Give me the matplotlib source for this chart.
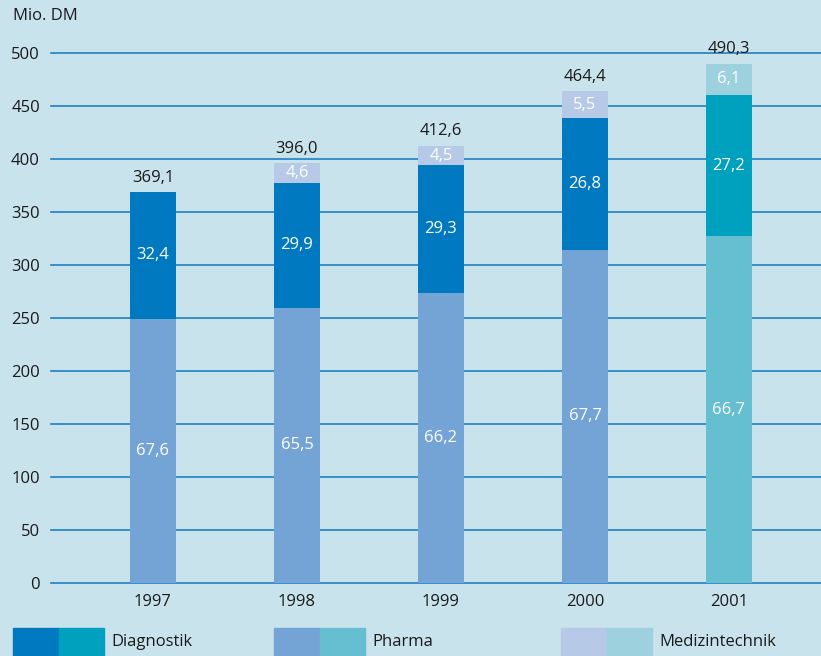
import matplotlib.pyplot as plt
from matplotlib.patches import Rectangle
import numpy as np

plt.rcParams['font.family'] = ['Open Sans', 'DejaVu Sans']

years = ["1997", "1998", "1999", "2000", "2001"]
totals = [369.1, 396.0, 412.6, 464.4, 490.3]
pharma_pct = [67.6, 65.5, 66.2, 67.7, 66.7]
diag_pct = [32.4, 29.9, 29.3, 26.8, 27.2]
medtech_pct = [0.0, 4.6, 4.5, 5.5, 6.1]

bg = '#c9e3ec'
grid_col = '#1f80c4'
# normal colours and 2001 colours
diag_cols = ['#0079c1', '#00a0bf']
pharma_cols = ['#74a3d6', '#66bfd1']
med_cols = ['#b6c9e7', '#9ed1de']


def fmt(v):
    return f"{v:.1f}".replace('.', ',')


fig = plt.figure(figsize=(8.21, 6.56), dpi=100, facecolor=bg)
ax = fig.add_axes([51 / 821, 1 - 582.7 / 656, 1 - 51 / 821, (582.7 - 53.3) / 656])
ax.set_facecolor(bg)

x = np.arange(len(years))
w = 0.32
totals = np.array(totals)
ph = totals * np.array(pharma_pct) / 100
dg = totals * np.array(diag_pct) / 100
md = totals * np.array(medtech_pct) / 100

for i in range(len(years)):
    k = 1 if years[i] == "2001" else 0
    ax.bar(x[i], ph[i], w, color=pharma_cols[k], zorder=3)
    ax.bar(x[i], dg[i], w, bottom=ph[i], color=diag_cols[k], zorder=3)
    if md[i] > 0:
        ax.bar(x[i], md[i], w, bottom=ph[i] + dg[i], color=med_cols[k], zorder=3)
        ax.text(x[i], ph[i] + dg[i] + md[i] / 2, fmt(medtech_pct[i]), color='white',
                ha='center', va='center', fontsize=12, zorder=4)
    ax.text(x[i], ph[i] / 2, fmt(pharma_pct[i]), color='white',
            ha='center', va='center', fontsize=12, zorder=4)
    ax.text(x[i], ph[i] + dg[i] / 2, fmt(diag_pct[i]), color='white',
            ha='center', va='center', fontsize=12, zorder=4)
    ax.text(x[i], totals[i] + 6, fmt(totals[i]), color='#1a1a1a',
            ha='center', va='bottom', fontsize=12, zorder=4, clip_on=False)

ax.set_xlim(-0.708, 4.639)
ax.set_ylim(0, 500)
ax.set_yticks(np.arange(0, 501, 50))
ax.set_xticks(x)
ax.set_xticklabels(years)
ax.tick_params(length=0, labelsize=12, colors='#1a1a1a')
ax.tick_params(axis='y', pad=8)
ax.tick_params(axis='x', pad=8)
for s in ax.spines.values():
    s.set_visible(False)
for v in np.arange(0, 501, 50):
    ax.axhline(v, color=grid_col, lw=1.2, zorder=1, clip_on=False)

fig.text(13 / 821, 1 - 16 / 656, "Mio. DM", fontsize=12, va='center', ha='left', color='#1a1a1a')

# legend
legend_items = [("Diagnostik", diag_cols, 13), ("Pharma", pharma_cols, 274), ("Medizintechnik", med_cols, 561)]
for name, cols, x0 in legend_items:
    for j, c in enumerate(cols):
        fig.patches.append(Rectangle(((x0 + j * 45.5) / 821, 0), 45.5 / 821, 28 / 656,
                                     transform=fig.transFigure, color=c))
    fig.text((x0 + 98) / 821, 14 / 656, name, fontsize=12, va='center', ha='left', color='#1a1a1a')

fig.savefig('out.png', dpi=100, facecolor=bg)
